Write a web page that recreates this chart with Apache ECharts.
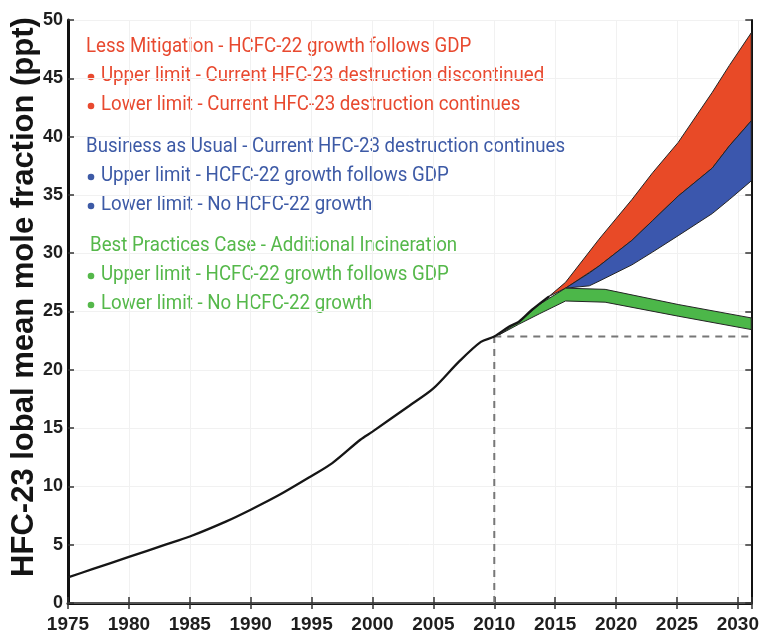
<!DOCTYPE html>
<html>
<head>
<meta charset="utf-8">
<script src="https://cdn.jsdelivr.net/npm/echarts@6/dist/echarts.min.js"></script>
<style>
  html, body { margin: 0; padding: 0; background: #fff; }
  #chart { width: 762px; height: 635px; }
</style>
</head>
<body>
<div id="chart"></div>
<script>
// Observed HFC-23 global mean mole fraction (ppt)
const histYears  = [1975, 1977, 1980, 1983, 1985, 1988, 1990, 1992.4, 1995, 1996.7, 1999, 2000, 2003, 2005, 2007.1, 2008.9, 2010, 2011.2, 2012, 2013.1, 2014.5];
const histValues = [2.2, 2.9, 3.95, 5.0, 5.7, 7.0, 8.0, 9.3, 10.9, 12.0, 14.0, 14.7, 16.9, 18.4, 20.7, 22.4, 22.85, 23.7, 24.1, 25.15, 26.3];

// Less Mitigation band
const lessYears = [2014.5, 2015.85, 2018.6, 2021.3, 2023, 2025.1, 2027.9, 2029.3, 2031.1];
const lessUpper = [26.3, 27.5, 31.2, 34.6, 36.9, 39.5, 43.8, 46.1, 48.9];
const lessLower = [26.3, 27.0, 28.9, 31.1, 32.8, 34.9, 37.3, 39.2, 41.35];

// Business as Usual band
const bauYears = [2015.85, 2017.8, 2018.6, 2021.3, 2023, 2025.1, 2027.9, 2029.3, 2031.1];
const bauUpper = [27.0, 28.3, 28.9, 31.1, 32.8, 34.9, 37.3, 39.2, 41.35];
const bauLower = [27.0, 27.2, 27.6, 29.0, 30.1, 31.5, 33.4, 34.6, 36.2];

// Best Practices band
const bestYears = [2010.4, 2012, 2013.7, 2015.85, 2019.1, 2025.1, 2031.1];
const bestUpper = [23.0, 24.1, 25.6, 27.0, 26.9, 25.6, 24.45];
const bestLower = [23.0, 23.9, 24.8, 25.9, 25.8, 24.6, 23.45];

// 2010 reference level
const refYear = 2010;
const refLevel = 22.85;

const xTickYears = [1975, 1980, 1985, 1990, 1995, 2000, 2005, 2010, 2015, 2020, 2025, 2030];

const legendLines = [
  { text: 'Less Mitigation - HCFC-22 growth follows GDP', color: '#e8492f', bullet: false },
  { text: 'Upper limit - Current HFC-23 destruction discontinued', color: '#e8492f', bullet: true },
  { text: 'Lower limit - Current HFC-23 destruction continues', color: '#e8492f', bullet: true },
  { text: 'Business as Usual - Current HFC-23 destruction continues', color: '#3d5aa6', bullet: false },
  { text: 'Upper limit - HCFC-22 growth follows GDP', color: '#3d5aa6', bullet: true },
  { text: 'Lower limit - No HCFC-22 growth', color: '#3d5aa6', bullet: true },
  { text: 'Best Practices Case - Additional Incineration', color: '#55b84a', bullet: false },
  { text: 'Upper limit - HCFC-22 growth follows GDP', color: '#55b84a', bullet: true },
  { text: 'Lower limit - No HCFC-22 growth', color: '#55b84a', bullet: true }
];

const chart = echarts.init(document.getElementById('chart'), null, { renderer: 'canvas' });

function bandSeries(name, years, lower, upper, fill) {
  return {
    type: 'custom',
    name: name,
    clip: true,
    z: 3,
    data: years.map((x, i) => [x, lower[i], upper[i]]),
    encode: { x: 0, y: [1, 2] },
    renderItem: function (params, api) {
      if (params.dataIndex !== 0) return null;
      const top = years.map((x, i) => api.coord([x, upper[i]]));
      const bottom = years.map((x, i) => api.coord([x, lower[i]])).reverse();
      return {
        type: 'polygon',
        shape: { points: top.concat(bottom) },
        style: { fill: fill, stroke: '#242424', lineWidth: 1 }
      };
    }
  };
}

// Legend block drawn as text lines
const legendRows = [47, 76, 105, 147, 176, 205, 246, 275, 304];
const graphics = [];
legendLines.forEach((ln, i) => {
  const y = legendRows[i];
  let x = (i >= 6 && !ln.bullet) ? 90 : 86;
  if (ln.bullet) {
    graphics.push({
      type: 'circle', shape: { cx: 91, cy: y + 1, r: 3.3 },
      style: { fill: ln.color }
    });
    x = 101;
  }
  graphics.push({
    type: 'text', x: x, y: y, scaleX: 0.89,
    style: {
      text: ln.text, fill: ln.color,
      font: '21px Roboto', align: 'left', verticalAlign: 'middle'
    }
  });
});
// Y axis title
graphics.push({
  type: 'text', x: 24, y: 297, rotation: Math.PI / 2,
  style: {
    text: 'HFC-23 lobal mean mole fraction (ppt)', fill: '#141414',
    font: 'bold 31px "Liberation Sans"', align: 'center', verticalAlign: 'middle'
  }
});

const axisCommon = {
  type: 'value',
  axisTick: { inside: true, length: 6, lineStyle: { color: '#333', width: 1.5 } },
  splitLine: { show: false }
};

const option = {
  animation: false,
  backgroundColor: '#fff',
  grid: { left: 68, right: 10, top: 20, bottom: 32, containLabel: false },
  xAxis: [
    Object.assign({}, axisCommon, {
      position: 'bottom', min: 1975, max: 2031.1, interval: 5,
      axisLine: { lineStyle: { color: '#111', width: 3 } },
      splitLine: { show: true, lineStyle: { color: '#f1f1f1', width: 1 } },
      axisLabel: {
        margin: 12, color: '#1e1e1e', fontFamily: 'Liberation Sans', fontWeight: 'bold', fontSize: 19,
        formatter: v => (xTickYears.indexOf(v) >= 0 ? String(v) : '')
      }
    }),
    Object.assign({}, axisCommon, {
      position: 'top', min: 1975, max: 2031.1, interval: 5,
      axisLine: { lineStyle: { color: '#555', width: 2 } },
      axisLabel: { show: false }
    })
  ],
  yAxis: [
    Object.assign({}, axisCommon, {
      position: 'left', min: 0, max: 50, interval: 5,
      axisLine: { lineStyle: { color: '#111', width: 3 } },
      splitLine: { show: true, lineStyle: { color: '#f1f1f1', width: 1 } },
      axisLabel: {
        margin: 5, color: '#1e1e1e', fontFamily: 'Liberation Sans', fontWeight: 'bold', fontSize: 18
      }
    }),
    Object.assign({}, axisCommon, {
      position: 'right', min: 0, max: 50, interval: 5,
      axisLine: { lineStyle: { color: '#111', width: 2 } },
      axisLabel: { show: false }
    })
  ],
  graphic: graphics,
  series: [
    {
      type: 'line', name: 'ref-vertical', z: 1, clip: false, symbol: 'none',
      lineStyle: { color: '#777', width: 2, type: [7, 6] },
      data: [[refYear, 0], [refYear, refLevel]]
    },
    {
      type: 'line', name: 'ref-horizontal', z: 1, clip: false, symbol: 'none',
      lineStyle: { color: '#777', width: 2, type: [7, 6] },
      data: [[refYear, refLevel], [2032, refLevel]]
    },
    bandSeries('Less Mitigation', lessYears, lessLower, lessUpper, '#e84a27'),
    bandSeries('Business as Usual', bauYears, bauLower, bauUpper, '#3b57ad'),
    bandSeries('Best Practices', bestYears, bestLower, bestUpper, '#4cb749'),
    {
      type: 'line', name: 'Observed', z: 5, symbol: 'none', smooth: 0.3,
      lineStyle: { color: '#161616', width: 2.3 },
      data: histYears.map((y, i) => [y, histValues[i]])
    }
  ]
};

chart.setOption(option);
</script>
</body>
</html>
